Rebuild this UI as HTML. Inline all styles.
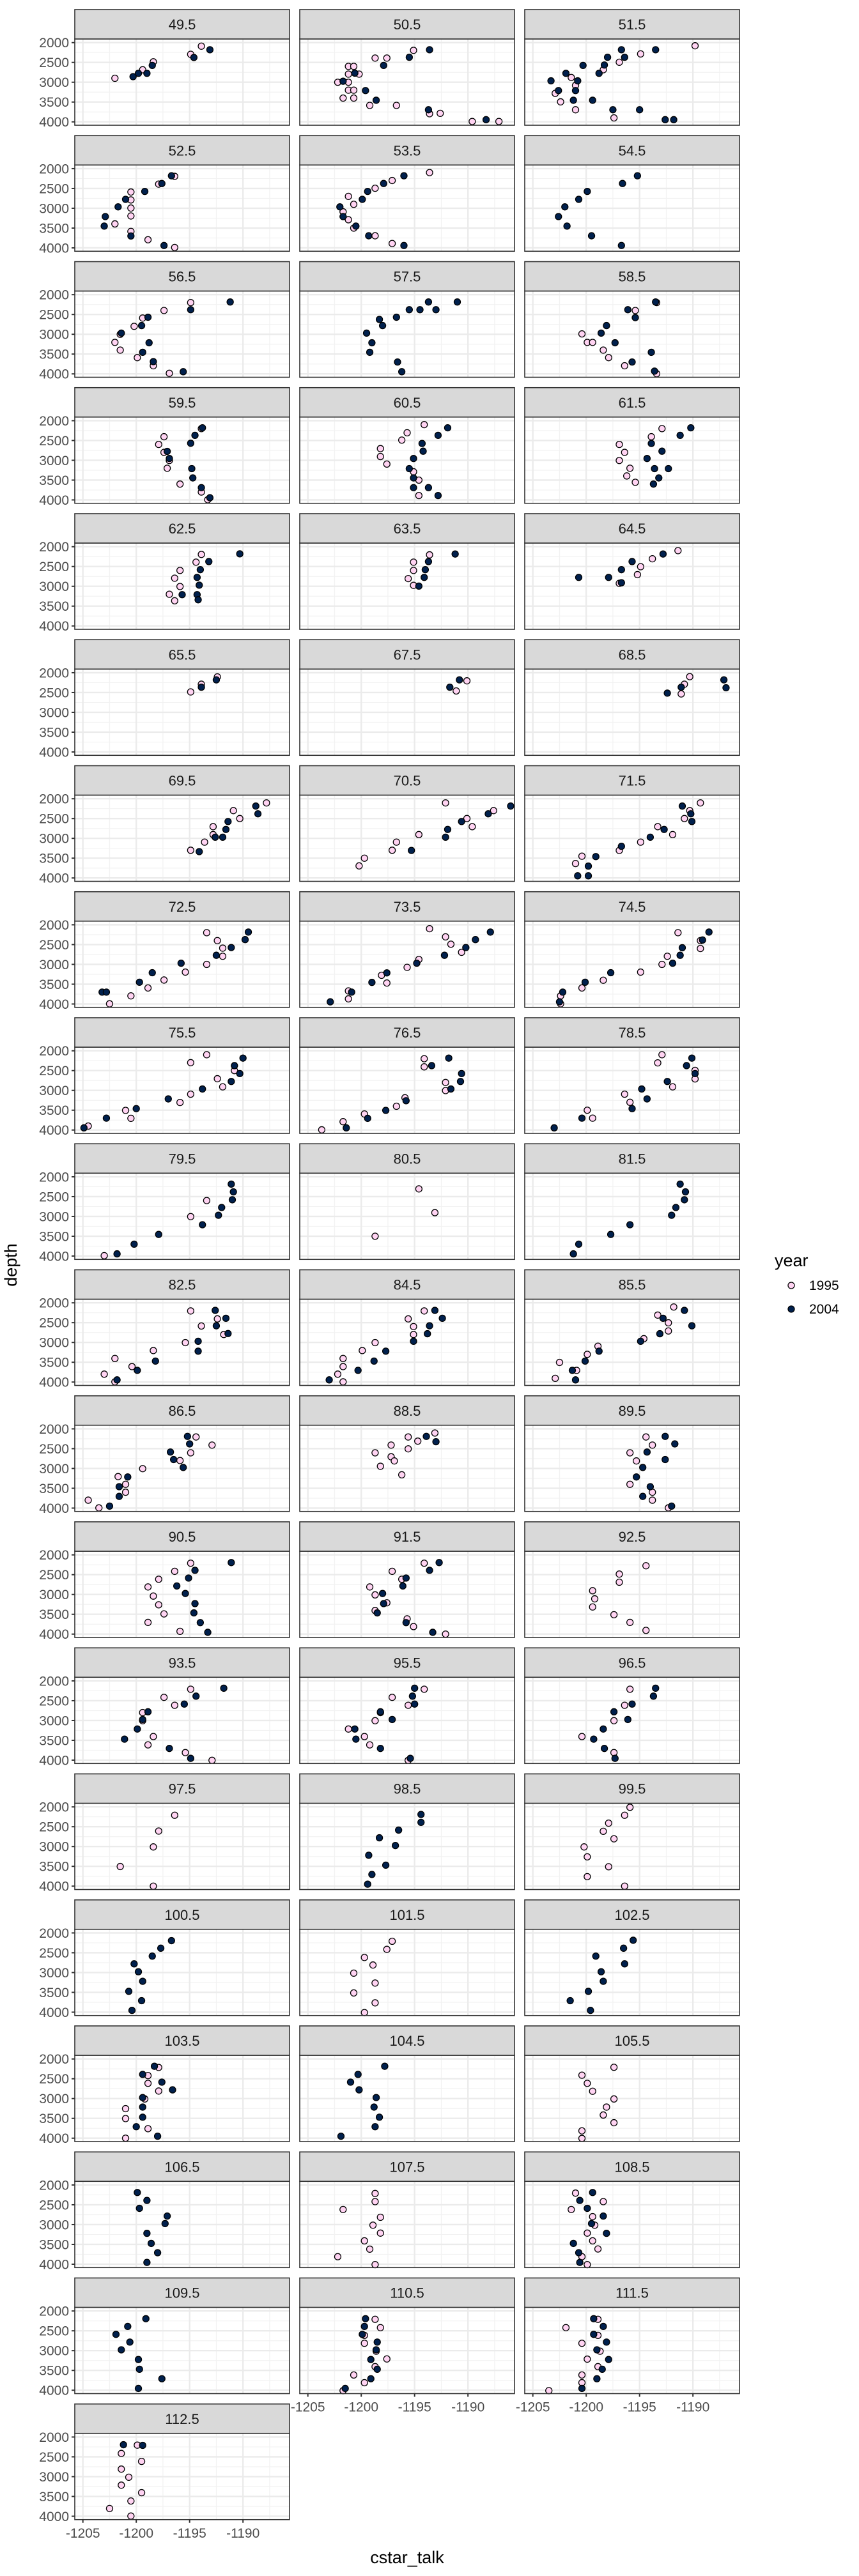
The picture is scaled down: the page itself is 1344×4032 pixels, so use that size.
<!DOCTYPE html>
<html><head><meta charset="utf-8"><style>
html,body{margin:0;padding:0;background:#fff;}
svg{display:block;font-family:"Liberation Sans",sans-serif;}
</style></head><body>
<svg id="chart" width="1344" height="4032" viewBox="0 0 1344 4032" xmlns="http://www.w3.org/2000/svg">
<rect width="1344" height="4032" fill="#fff"/>
<text x="0" y="0" transform="translate(26,1980) rotate(-90)" text-anchor="middle" font-size="27" fill="#000">depth</text>
<text x="637" y="4012" text-anchor="middle" font-size="27" fill="#000">cstar_talk</text>
<g>
<text x="1212" y="1982" font-size="27" fill="#000">year</text>
<circle cx="1238" cy="2012" r="5" fill="#FFD3F2" stroke="#000" stroke-width="1.3"/>
<text x="1266" y="2019" font-size="21" fill="#000">1995</text>
<circle cx="1238" cy="2049" r="5" fill="#00204D" stroke="#000" stroke-width="1.3"/>
<text x="1266" y="2056" font-size="21" fill="#000">2004</text>
</g>
<g id="panels"></g>
</svg>
<script>
const facetLabels = ["49.5","50.5","51.5","52.5","53.5","54.5","56.5","57.5","58.5","59.5","60.5","61.5","62.5","63.5","64.5","65.5","67.5","68.5","69.5","70.5","71.5","72.5","73.5","74.5","75.5","76.5","78.5","79.5","80.5","81.5","82.5","84.5","85.5","86.5","88.5","89.5","90.5","91.5","92.5","93.5","95.5","96.5","97.5","98.5","99.5","100.5","101.5","102.5","103.5","104.5","105.5","106.5","107.5","108.5","109.5","110.5","111.5","112.5"];
const xTicks = [-1205,-1200,-1195,-1190];
const yTicks = [2000,2500,3000,3500,4000];
const yearLabels = ["1995","2004"];
const year1995 = [
[[-1202,2900],[-1199.4,2685],[-1198.4,2485],[-1194.9,2295],[-1193.9,2090]],
[[-1195.1,2195],[-1198.7,2390],[-1197.6,2390],[-1201.2,2600],[-1200.7,2600],[-1201.2,2795],[-1200.2,2795],[-1202.2,3000],[-1201.2,3000],[-1201.2,3200],[-1200.7,3200],[-1201.7,3400],[-1200.7,3400],[-1199.2,3585],[-1196.7,3585],[-1193.6,3795],[-1192.6,3785],[-1189.6,3990],[-1187.1,3990]],
[[-1189.8,2080],[-1194.9,2285],[-1196.9,2495],[-1198.4,2685],[-1201.4,2880],[-1201,3080],[-1202.9,3280],[-1202.4,3495],[-1201,3695],[-1197.4,3900]],
[[-1196.4,2195],[-1197.9,2390],[-1200.5,2590],[-1200.5,2790],[-1200.5,2995],[-1200.5,3195],[-1202,3395],[-1200.5,3585],[-1198.9,3795],[-1196.4,3990]],
[[-1193.6,2100],[-1197.1,2300],[-1198.7,2495],[-1201.2,2700],[-1200.7,2900],[-1201.7,3090],[-1201.2,3290],[-1200.7,3500],[-1198.7,3695],[-1197.1,3890]],
[],
[[-1194.9,2200],[-1197.4,2400],[-1199.4,2590],[-1200.2,2800],[-1201.5,3000],[-1202,3205],[-1201.5,3400],[-1199.9,3590],[-1198.4,3795],[-1196.9,3985]],
[],
[[-1193.4,2200],[-1195.4,2400],[-1200.4,2990],[-1199.9,3205],[-1199.4,3205],[-1198.4,3400],[-1197.9,3590],[-1196.4,3795],[-1193.4,3995]],
[[-1193.9,2200],[-1197.4,2405],[-1197.9,2600],[-1197.4,2800],[-1196.9,3005],[-1197.1,3200],[-1195.9,3600],[-1193.9,3800],[-1193.3,3995]],
[[-1194.1,2100],[-1195.7,2305],[-1196.2,2490],[-1198.2,2705],[-1198.2,2905],[-1197.6,3095],[-1195.1,3290],[-1194.6,3500],[-1194.6,3890]],
[[-1192.9,2200],[-1193.9,2405],[-1196.9,2600],[-1196.4,2800],[-1196.9,3005],[-1195.9,3200],[-1196.2,3395],[-1195.4,3555]],
[[-1193.9,2195],[-1194.4,2390],[-1195.9,2600],[-1196.4,2795],[-1195.9,3005],[-1196.9,3200],[-1196.4,3365]],
[[-1193.6,2205],[-1195.1,2390],[-1195.1,2600],[-1195.6,2805],[-1195.1,2975]],
[[-1191.4,2100],[-1193.8,2305],[-1194.9,2505],[-1195.2,2705],[-1196.9,2925]],
[[-1192.4,2105],[-1193.9,2290],[-1194.9,2485]],
[[-1190.1,2205],[-1191.1,2460]],
[[-1190.3,2100],[-1190.8,2290],[-1191.1,2535]],
[[-1187.8,2105],[-1190.9,2300],[-1190.3,2500],[-1192.8,2705],[-1192.8,2905],[-1193.6,3095],[-1194.9,3300]],
[[-1192.1,2105],[-1187.6,2300],[-1190.1,2500],[-1189.6,2705],[-1194.6,2905],[-1196.7,3095],[-1197.1,3300],[-1199.7,3500],[-1200.2,3695]],
[[-1189.3,2105],[-1190.3,2300],[-1190.8,2500],[-1193.3,2705],[-1191.9,2905],[-1194.9,3095],[-1196.9,3305],[-1200.4,3450],[-1201,3635]],
[[-1193.4,2200],[-1192.4,2400],[-1191.9,2590],[-1191.9,2795],[-1193.4,3000],[-1195.4,3195],[-1197.4,3395],[-1198.9,3595],[-1200.5,3795],[-1202.5,3995]],
[[-1193.6,2100],[-1192.1,2305],[-1191.6,2490],[-1190.6,2695],[-1194.6,2875],[-1195.7,3075],[-1198.1,3275],[-1197.6,3470],[-1201.2,3670],[-1201.2,3870]],
[[-1191.4,2200],[-1189.3,2400],[-1189.3,2600],[-1192.4,2795],[-1192.9,3000],[-1194.9,3195],[-1198.4,3400],[-1200.4,3595],[-1202.4,3795],[-1202.4,3995]],
[[-1193.4,2100],[-1194.9,2300],[-1190.8,2500],[-1192.4,2705],[-1191.9,2910],[-1194.9,3095],[-1195.9,3305],[-1201,3505],[-1200.5,3705],[-1204.5,3900]],
[[-1194.1,2200],[-1194.1,2405],[-1192.1,2800],[-1192.1,3005],[-1195.9,3185],[-1196.7,3400],[-1199.7,3595],[-1201.7,3790],[-1203.7,3995]],
[[-1192.9,2100],[-1193.3,2305],[-1189.8,2495],[-1189.8,2710],[-1191.9,2910],[-1196.4,3095],[-1195.9,3300],[-1199.9,3500],[-1199.4,3700]],
[[-1193.4,2600],[-1194.9,3005],[-1203,3990]],
[[-1194.6,2305],[-1193.1,2905],[-1198.7,3500]],
[],
[[-1194.9,2205],[-1192.4,2405],[-1193.9,2585],[-1191.8,2800],[-1195.4,3005],[-1198.4,3205],[-1202,3405],[-1200.4,3610],[-1203,3800],[-1202,3995]],
[[-1194.1,2205],[-1195.6,2405],[-1195.1,2600],[-1195.1,2800],[-1198.7,3005],[-1199.9,3205],[-1201.7,3405],[-1201.7,3610],[-1202.2,3800],[-1201.7,3995]],
[[-1191.8,2105],[-1193.3,2310],[-1192.3,2505],[-1192.3,2710],[-1194.6,2905],[-1198.9,3095],[-1199.9,3300],[-1202.5,3505],[-1200.9,3705],[-1202.9,3905]],
[[-1194.4,2205],[-1192.9,2410],[-1194.9,2605],[-1195.9,2800],[-1199.4,3005],[-1201.7,3205],[-1201,3400],[-1201,3600],[-1204.5,3800],[-1203.5,3995]],
[[-1193.1,2105],[-1195.6,2205],[-1194.7,2310],[-1197.2,2410],[-1195.6,2505],[-1198.7,2605],[-1197.2,2705],[-1196.9,2810],[-1198.2,2945],[-1196.2,3160]],
[[-1194.4,2205],[-1193.8,2410],[-1195.9,2605],[-1195.3,2810],[-1195.9,3400],[-1193.8,3600],[-1193.8,3800],[-1192.3,3995]],
[[-1194.9,2210],[-1196.4,2415],[-1197.9,2615],[-1198.9,2810],[-1198.4,3040],[-1197.9,3260],[-1197.4,3490],[-1198.9,3705],[-1195.9,3930]],
[[-1194.1,2210],[-1197.1,2415],[-1196.2,2615],[-1199.2,2810],[-1198.7,3010],[-1197.6,3210],[-1198.7,3405],[-1195.7,3615],[-1195.1,3810],[-1192.1,4000]],
[[-1194.4,2275],[-1196.9,2485],[-1196.9,2690],[-1199.4,2905],[-1199.2,3110],[-1199.4,3315],[-1197.4,3510],[-1195.9,3705],[-1194.4,3905]],
[[-1194.9,2210],[-1197.4,2415],[-1196.4,2615],[-1199.4,2800],[-1199.4,3005],[-1198.4,3405],[-1198.9,3615],[-1195.4,3810],[-1192.9,4005]],
[[-1194.1,2210],[-1197.1,2415],[-1195.6,2615],[-1198.2,2800],[-1198.7,3005],[-1201.2,3215],[-1199.7,3405],[-1199.2,3615],[-1195.6,4005]],
[[-1195.9,2210],[-1196.4,2615],[-1197.4,3005],[-1200.4,3405],[-1197.4,3810]],
[[-1196.4,2210],[-1197.9,2610],[-1198.4,3010],[-1201.5,3505],[-1198.4,4000]],
[],
[[-1195.9,2010],[-1196.4,2210],[-1197.9,2410],[-1198.4,2615],[-1197.4,2805],[-1200.2,3010],[-1199.9,3260],[-1197.9,3510],[-1199.9,3760],[-1196.4,4000]],
[],
[[-1197.1,2210],[-1197.6,2415],[-1199.7,2620],[-1198.9,2810],[-1200.7,3015],[-1198.7,3265],[-1200.7,3515],[-1198.7,3765],[-1199.7,4010]],
[],
[[-1197.9,2215],[-1198.9,2420],[-1198.9,2615],[-1197.9,2810],[-1199.2,3010],[-1201,3255],[-1201,3505],[-1198.9,3760],[-1201,4000]],
[],
[[-1197.4,2210],[-1200.4,2410],[-1199.9,2615],[-1199.4,2815],[-1197.4,3010],[-1198.1,3215],[-1198.4,3415],[-1197.4,3610],[-1200.4,3815],[-1200.4,4005]],
[],
[[-1198.7,2215],[-1198.7,2420],[-1201.7,2620],[-1198.2,2815],[-1198.9,3015],[-1198.2,3215],[-1199.7,3410],[-1199.2,3620],[-1202.2,3810],[-1198.7,4010]],
[[-1201,2205],[-1198.4,2420],[-1201.4,2620],[-1199.4,2800],[-1199.2,3015],[-1199.9,3215],[-1199.4,3410],[-1198.9,3615],[-1200.4,3810],[-1199.9,4010]],
[],
[[-1198.7,2210],[-1198.2,2420],[-1199.7,2615],[-1199.7,2815],[-1198.6,3015],[-1197.6,3210],[-1198.7,3405],[-1200.7,3615],[-1199.7,3810],[-1201.7,4010]],
[[-1198.9,2210],[-1201.9,2420],[-1198.9,2615],[-1200.4,2815],[-1198.7,3015],[-1199.9,3215],[-1198.9,3405],[-1200.4,3615],[-1200.4,3810],[-1203.5,4010]],
[[-1199.9,2205],[-1201.4,2415],[-1199.5,2615],[-1201.4,2810],[-1200.7,3015],[-1201.4,3215],[-1199.5,3405],[-1200.5,3615],[-1202.5,3805],[-1200.5,3995]]
];
const year2004 = [
[[-1200.3,2860],[-1199.8,2775],[-1199,2775],[-1198.5,2575],[-1194.6,2375],[-1193.1,2180]],
[[-1193.6,2180],[-1195.5,2370],[-1197.9,2575],[-1200.6,2770],[-1201.7,2975],[-1199.6,3210],[-1198.6,3455],[-1193.7,3695],[-1188.3,3945]],
[[-1193.5,2180],[-1196.7,2180],[-1198,2370],[-1196.4,2370],[-1200.3,2575],[-1198.3,2565],[-1198.8,2775],[-1201.9,2775],[-1200.8,2965],[-1203.3,2965],[-1201,3210],[-1202.6,3210],[-1201.2,3455],[-1199.4,3455],[-1197.5,3695],[-1195,3695],[-1192.6,3945],[-1191.8,3945]],
[[-1196.7,2180],[-1197.6,2375],[-1199.2,2575],[-1201,2775],[-1201.7,2965],[-1202.9,3210],[-1203,3450],[-1200.5,3700],[-1197.4,3940]],
[[-1196,2180],[-1197.9,2375],[-1199.4,2575],[-1199.9,2775],[-1202,2965],[-1201.7,3210],[-1200.5,3450],[-1199.3,3695],[-1196,3940]],
[[-1195.2,2180],[-1196.6,2375],[-1199.9,2575],[-1200.7,2775],[-1202,2965],[-1202.6,3210],[-1201.8,3450],[-1199.5,3695],[-1196.7,3940]],
[[-1191.2,2185],[-1194.9,2380],[-1198.9,2570],[-1199.5,2780],[-1201.4,2970],[-1198.8,3215],[-1199.4,3455],[-1198.4,3690],[-1195.6,3945]],
[[-1193.7,2185],[-1191,2185],[-1195.5,2380],[-1194.5,2380],[-1193,2380],[-1196.7,2570],[-1198.3,2625],[-1198,2780],[-1199.5,2970],[-1199,3215],[-1199.2,3455],[-1196.6,3700],[-1196.2,3945]],
[[-1193.5,2185],[-1196.1,2380],[-1195.4,2580],[-1198.1,2780],[-1198.6,2970],[-1197.3,3215],[-1193.9,3455],[-1195.7,3700],[-1193.6,3930]],
[[-1193.8,2180],[-1194.5,2370],[-1194.9,2570],[-1197.1,2775],[-1196.9,2955],[-1194.8,3210],[-1194.7,3445],[-1193.9,3690],[-1193.1,3945]],
[[-1191.9,2180],[-1192.8,2370],[-1194.3,2575],[-1194.2,2770],[-1195.1,2955],[-1195.5,3210],[-1195.1,3445],[-1195.1,3690],[-1193.7,3690],[-1192.8,3890]],
[[-1190.2,2180],[-1191.2,2370],[-1193.9,2575],[-1192.9,2770],[-1194.3,2955],[-1193.6,3210],[-1192.3,3210],[-1193.2,3445],[-1193.7,3600]],
[[-1190.3,2180],[-1193.2,2375],[-1194,2580],[-1194.3,2775],[-1194.1,2970],[-1195.7,3210],[-1194.3,3210],[-1194.2,3340]],
[[-1191.2,2185],[-1193.7,2375],[-1194,2580],[-1194.1,2775],[-1194.6,2995]],
[[-1192.8,2185],[-1195.7,2375],[-1196.7,2580],[-1200.7,2775],[-1197.9,2775],[-1196.7,2910]],
[[-1192.5,2180],[-1193.9,2365]],
[[-1190.8,2180],[-1191.7,2365]],
[[-1187.1,2180],[-1186.9,2380],[-1191.1,2365],[-1192.4,2515]],
[[-1188.8,2185],[-1188.6,2380],[-1191.4,2575],[-1191.6,2775],[-1192.6,2970],[-1191.9,2970],[-1194.1,3335]],
[[-1186,2185],[-1188.1,2380],[-1190.6,2575],[-1191.9,2775],[-1192.1,2970],[-1195.3,3305]],
[[-1191,2185],[-1190.2,2380],[-1190.1,2575],[-1192.7,2775],[-1194,2970],[-1196.7,3200],[-1199.1,3460],[-1199.8,3700],[-1200.8,3945],[-1199.8,3945]],
[[-1189.5,2185],[-1189.8,2375],[-1191.1,2575],[-1192.5,2770],[-1195.8,2970],[-1198.5,3210],[-1199.7,3450],[-1203.2,3700],[-1202.8,3700]],
[[-1187.9,2185],[-1189.3,2375],[-1190.2,2575],[-1192.2,2770],[-1194.8,2970],[-1197.6,3215],[-1199,3455],[-1200.9,3700],[-1202.9,3945]],
[[-1188.5,2185],[-1189.1,2385],[-1191,2580],[-1191.2,2770],[-1191.9,2970],[-1197.7,3210],[-1200.1,3450],[-1202.2,3700],[-1202.5,3945]],
[[-1190,2185],[-1190.8,2375],[-1190.3,2575],[-1191.1,2775],[-1193.8,2965],[-1197,3215],[-1200,3460],[-1202.8,3700],[-1204.9,3945]],
[[-1191.8,2185],[-1193.4,2375],[-1190.6,2575],[-1190.7,2775],[-1191.6,2965],[-1195.8,3260],[-1197.7,3505],[-1199.4,3705],[-1201.4,3945]],
[[-1190.1,2185],[-1190.6,2375],[-1189.8,2575],[-1192.4,2775],[-1194.8,2965],[-1194.3,3215],[-1195.7,3460],[-1200.4,3700],[-1203,3945]],
[[-1191.1,2185],[-1190.9,2380],[-1191,2580],[-1192,2775],[-1192.3,2970],[-1193.8,3210],[-1197.9,3455],[-1200.2,3700],[-1201.8,3945]],
[],
[[-1191.2,2185],[-1190.7,2380],[-1190.8,2580],[-1191.6,2775],[-1192,2970],[-1195.9,3210],[-1197.7,3455],[-1200.7,3700],[-1201.2,3945]],
[[-1192.6,2190],[-1191.6,2390],[-1192.5,2580],[-1191.4,2775],[-1194.2,2970],[-1194.2,3220],[-1198.2,3470],[-1199.9,3705],[-1201.8,3945]],
[[-1193.1,2190],[-1192.4,2390],[-1193.6,2580],[-1193.8,2780],[-1195.1,2970],[-1197.7,3220],[-1198.8,3470],[-1200.3,3705],[-1203,3945]],
[[-1190.8,2190],[-1192.8,2390],[-1190.1,2580],[-1193.1,2780],[-1194.9,2970],[-1198.8,3220],[-1200.1,3470],[-1201.3,3705],[-1201,3945]],
[[-1195.2,2190],[-1195,2380],[-1196.8,2585],[-1196.5,2775],[-1195.6,2975],[-1200.8,3215],[-1201.6,3460],[-1201.6,3705],[-1202.5,3950]],
[[-1193.9,2190],[-1193,2325]],
[[-1192.6,2190],[-1191.7,2380],[-1194.3,2585],[-1192.6,2775],[-1194.7,2975],[-1195.3,3215],[-1194,3460],[-1194.7,3705],[-1192,3950]],
[[-1191.1,2195],[-1194.5,2390],[-1195.1,2585],[-1196.2,2785],[-1195.4,2975],[-1194.5,3230],[-1194.6,3465],[-1194,3710],[-1193.3,3955]],
[[-1192.7,2195],[-1193.6,2390],[-1195.8,2585],[-1196.1,2785],[-1198,2975],[-1197.9,3230],[-1198.5,3465],[-1195.8,3710],[-1193.3,3955]],
[],
[[-1191.8,2185],[-1194.4,2385],[-1195.5,2585],[-1198.9,2780],[-1199.4,2975],[-1199.9,3215],[-1201.1,3470],[-1196.9,3705],[-1194.9,3955]],
[[-1195,2185],[-1195.2,2385],[-1195,2585],[-1198.2,2780],[-1197.1,2975],[-1200.6,3215],[-1200.5,3470],[-1198.2,3705],[-1195.4,3955]],
[[-1193.5,2185],[-1193.7,2385],[-1195.7,2585],[-1197.4,2780],[-1196.1,2975],[-1198.4,3215],[-1199.3,3470],[-1198.3,3705],[-1197.3,3955]],
[],
[[-1194.4,2190],[-1194.4,2390],[-1196.5,2585],[-1198.3,2780],[-1196.8,2975],[-1199.3,3220],[-1197.7,3470],[-1199,3705],[-1199.4,3950]],
[],
[[-1196.7,2195],[-1197.7,2385],[-1198.5,2585],[-1200.2,2780],[-1199.8,2980],[-1199.4,3220],[-1200.7,3475],[-1199.5,3710],[-1200.4,3955]],
[],
[[-1195.6,2185],[-1196.5,2385],[-1199.1,2585],[-1196.4,2780],[-1198.6,2980],[-1198.4,3220],[-1199.8,3475],[-1201.5,3710],[-1199.6,3955]],
[[-1198.3,2185],[-1199.4,2390],[-1197.6,2585],[-1196.6,2780],[-1199.4,2975],[-1199.4,3215],[-1199.4,3470],[-1200,3710],[-1198,3950]],
[[-1197.8,2185],[-1200.3,2390],[-1201,2585],[-1200.2,2780],[-1198.6,2975],[-1198.8,3215],[-1198.3,3470],[-1198.7,3710],[-1201.9,3950]],
[],
[[-1199.9,2190],[-1199,2390],[-1199.7,2590],[-1197.1,2785],[-1197.3,2975],[-1199,3220],[-1198.6,3475],[-1198,3710],[-1199,3955]],
[],
[[-1199.4,2190],[-1200.6,2390],[-1199.9,2590],[-1198.4,2785],[-1199.5,2975],[-1198.1,3220],[-1201.2,3475],[-1200.7,3710],[-1200.6,3955]],
[[-1199.1,2195],[-1200.8,2390],[-1201.9,2590],[-1200.6,2785],[-1201.4,2980],[-1199.8,3225],[-1199.7,3470],[-1197.6,3710],[-1199.8,3955]],
[[-1199.6,2195],[-1199.7,2390],[-1199.9,2590],[-1198.5,2785],[-1198.6,2980],[-1199.1,3225],[-1198.5,3470],[-1199.1,3710],[-1201.5,3955]],
[[-1199.3,2195],[-1198.4,2390],[-1199.3,2590],[-1198.1,2785],[-1199,2980],[-1197.9,3225],[-1198.5,3470],[-1199,3710],[-1200.4,3955]],
[[-1201.2,2195],[-1199.4,2210]]
];

const NS = "http://www.w3.org/2000/svg";
const root = document.getElementById('panels');
const COLS = 3, COL_LEFT = 117, COL_PITCH = 352, PW = 336;
const TOP0 = 15, ROW_PITCH = 197.25, STRIP_H = 46, PH = 135;
const X_MIN = -1205.76, X_MAX = -1185.64;
const Y_MIN = 1908, Y_MAX = 4085;
function el(tag, attrs, parent) {
  const e = document.createElementNS(NS, tag);
  for (const k in attrs) e.setAttribute(k, attrs[k]);
  parent.appendChild(e);
  return e;
}
function xScale(v, left) { return left + (v - X_MIN) / (X_MAX - X_MIN) * PW; }
function yScale(v, top) { return top + (v - Y_MIN) / (Y_MAX - Y_MIN) * PH; }
const nFacets = facetLabels.length;
const nRows = Math.ceil(nFacets / COLS);
facetLabels.forEach(function (lab, i) {
  const r = Math.floor(i / COLS), c = i % COLS;
  const left = COL_LEFT + c * COL_PITCH;
  const sTop = TOP0 + r * ROW_PITCH;
  const pTop = sTop + STRIP_H;
  const g = el('g', {}, root);
  
  
  el('rect', {x: left, y: pTop, width: PW, height: PH, fill: '#fff'}, g);
  // minor grid
  for (let v = -1207.5; v <= -1185; v += 5) {
    const x = xScale(v, left);
    if (x > left && x < left + PW) el('line', {x1: x, x2: x, y1: pTop, y2: pTop + PH, stroke: '#F2F2F2', 'stroke-width': 1.2}, g);
  }
  for (let v = 1750; v <= 4250; v += 500) {
    const y = yScale(v, pTop);
    if (y > pTop && y < pTop + PH) el('line', {x1: left, x2: left + PW, y1: y, y2: y, stroke: '#F2F2F2', 'stroke-width': 1.2}, g);
  }
  // major grid
  xTicks.forEach(function (v) {
    const x = xScale(v, left);
    el('line', {x1: x, x2: x, y1: pTop, y2: pTop + PH, stroke: '#EBEBEB', 'stroke-width': 2.4}, g);
  });
  yTicks.forEach(function (v) {
    const y = yScale(v, pTop);
    el('line', {x1: left, x2: left + PW, y1: y, y2: y, stroke: '#EBEBEB', 'stroke-width': 2.4}, g);
  });
  // points
  [year1995[i], year2004[i]].forEach(function (pts, yi) {
    pts.forEach(function (p) {
      const cpt = el('circle', {cx: xScale(p[0], left), cy: yScale(p[1], pTop), r: 5,
        fill: yi === 0 ? '#FFD3F2' : '#00204D', stroke: '#000', 'stroke-width': 1.3}, g);
      
      
    });
  });
  el('rect', {x: left, y: pTop, width: PW, height: PH, fill: 'none', stroke: '#333', 'stroke-width': 1.6}, g);
  // strip
  const strip = el('rect', {x: left, y: sTop, width: PW, height: STRIP_H, fill: '#D9D9D9', stroke: '#333', 'stroke-width': 1.6}, g);
  
  
  const st = el('text', {x: left + PW / 2, y: sTop + 31, 'text-anchor': 'middle', 'font-size': 22, fill: '#1A1A1A'}, g);
  st.textContent = lab;
  
  
  // y axis on first column
  if (c === 0) {
    yTicks.forEach(function (v) {
      const y = yScale(v, pTop);
      el('line', {x1: left - 5, x2: left, y1: y, y2: y, stroke: '#333', 'stroke-width': 2}, g);
      const t = el('text', {x: left - 9, y: y + 7.5, 'text-anchor': 'end', 'font-size': 21, fill: '#4D4D4D'}, g);
      t.textContent = v;
      
      
    });
  }
  // x axis on bottom panel of each column
  const isBottom = (i + COLS >= nFacets);
  if (isBottom) {
    const bot = pTop + PH;
    xTicks.forEach(function (v) {
      const x = xScale(v, left);
      el('line', {x1: x, x2: x, y1: bot, y2: bot + 5, stroke: '#333', 'stroke-width': 2}, g);
      const t = el('text', {x: x, y: bot + 28, 'text-anchor': 'middle', 'font-size': 21, fill: '#4D4D4D'}, g);
      t.textContent = v;
      
      
    });
  }
});
</script>
</body></html>
